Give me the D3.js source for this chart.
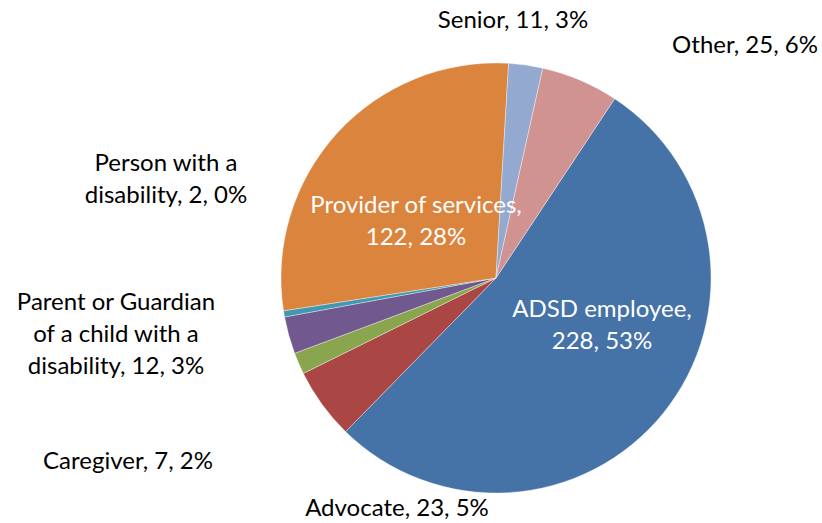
<!DOCTYPE html>
<html lang="en">
<head>
    <meta charset="UTF-8">
    <style>
        body { margin: 0; background: #fff; }
        .labels {
            font-family: Lato, "Open Sans", sans-serif;
            font-size: 24px;
            text-anchor: middle;
        }
    </style>
    <script src="https://d3js.org/d3.v7.min.js"></script>
</head>
<body>
    <div id="my_dataviz"></div>

    <script>
        // chart data, in Excel's series order
        var categories = ["ADSD employee", "Advocate", "Caregiver", "Parent or Guardian of a child with a disability",
            "Person with a disability", "Provider of services", "Senior", "Other"];
        var counts = [228, 23, 7, 12, 2, 122, 11, 25];
        var percents = [53, 5, 2, 3, 0, 28, 3, 6];

        // label lines as Excel wrapped them
        var labelLines = [
            ["ADSD employee,", "228, 53%"],
            ["Advocate, 23, 5%"],
            ["Caregiver, 7, 2%"],
            ["Parent or Guardian", "of a child with a", "disability, 12, 3%"],
            ["Person with a", "disability, 2, 0%"],
            ["Provider of services,", "122, 28%"],
            ["Senior, 11, 3%"],
            ["Other, 25, 6%"]
        ];

        var width = 822, height = 523;
        var cx = 496, cy = 278, radius = 215;
        var lineGap = 32;

        // where each label block sits (x centre, first baseline) and its colour
        var labelPos = [
            { x: 602, y: 317, fill: "#fff" },
            { x: 397, y: 516, fill: "#000" },
            { x: 128, y: 469, fill: "#000" },
            { x: 116, y: 310, fill: "#000" },
            { x: 166, y: 171, fill: "#000" },
            { x: 416, y: 213, fill: "#fff" },
            { x: 513, y: 28, fill: "#000" },
            { x: 745, y: 53, fill: "#000" }
        ];

        var color = d3.scaleOrdinal()
            .domain(categories)
            .range(["#4572a7", "#aa4643", "#89a54e", "#71588f", "#4198af", "#db843d", "#93a9cf", "#d19392"]);

        var svg = d3.select("#my_dataviz")
            .append("svg")
            .attr("width", width)
            .attr("height", height);

        var startAngle = 33.5 * Math.PI / 180;

        var pie = d3.pie()
            .sort(null)
            .value(function (d) { return d; })
            .startAngle(startAngle)
            .endAngle(startAngle + 2 * Math.PI);

        var arc = d3.arc()
            .innerRadius(0)
            .outerRadius(radius);

        var g = svg.append("g")
            .attr("transform", "translate(" + cx + "," + cy + ")");

        g.selectAll("path")
            .data(pie(counts))
            .enter()
            .append("path")
            .attr("d", arc)
            .attr("fill", function (d, i) { return color(categories[i]); })
            .attr("stroke", "#fff")
            .attr("stroke-width", 0.6)
            .attr("stroke-opacity", 0.6);

        var labels = svg.selectAll("mylabels")
            .data(labelLines)
            .enter()
            .append("text")
            .attr("class", "labels")
            .attr("fill", function (d, i) { return labelPos[i].fill; });

        labels.selectAll("tspan")
            .data(function (d, i) {
                return d.map(function (t, j) { return { t: t, x: labelPos[i].x, y: labelPos[i].y + j * lineGap }; });
            })
            .enter()
            .append("tspan")
            .attr("x", function (d) { return d.x; })
            .attr("y", function (d) { return d.y; })
            .text(function (d) { return d.t; });
    </script>
</body>
</html>
